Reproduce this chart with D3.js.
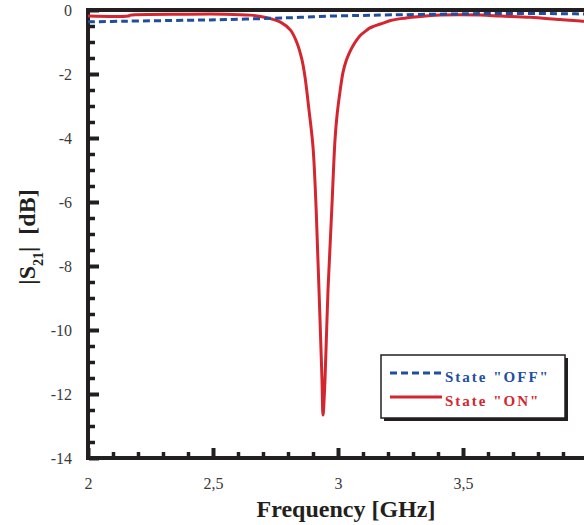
<!DOCTYPE html>
<html>
<head>
<meta charset="utf-8">
<script src="https://cdn.jsdelivr.net/npm/d3@7"></script>
<style>
  body { margin: 0; background: #fff; }
  svg { display: block; }
  .tick-label { font-family: "Liberation Serif", "Times New Roman", serif; font-size: 16px; fill: #3a3a3a; }
  .axis-title { font-family: "Liberation Serif", "Times New Roman", serif; font-weight: bold; fill: #231f20; white-space: pre; }
  .legend-text { font-family: "Liberation Serif", "Times New Roman", serif; font-weight: bold; font-size: 15px; letter-spacing: 2px; }
</style>
</head>
<body>
<div class="chart"></div>
<script>
// measured |S21| curves, frequency in GHz, value in dB
var freq_on = [2.00, 2.16, 2.17, 2.40, 2.55, 2.65, 2.69, 2.73, 2.77, 2.81, 2.836, 2.856, 2.868, 2.884, 2.90, 2.913, 2.924, 2.936, 2.940,
  2.948, 2.960, 2.975, 2.988, 2.996, 3.008, 3.02, 3.032, 3.045, 3.06, 3.075, 3.09, 3.11, 3.128, 3.18, 3.21, 3.25, 3.33, 3.41, 3.57, 3.65, 3.77, 3.89, 3.97, 4.00];
var s21_on = [-0.19, -0.19, -0.16, -0.13, -0.13, -0.16, -0.20, -0.27, -0.38, -0.63, -1.03, -1.56, -2.09, -3.13, -4.28, -6.3, -8.75, -11.56, -12.66,
  -11.56, -8.75, -6.25, -4.06, -3.3, -2.55, -1.95, -1.6, -1.35, -1.12, -0.93, -0.79, -0.66, -0.56, -0.41, -0.33, -0.27, -0.20, -0.16, -0.16, -0.19, -0.23, -0.30, -0.34, -0.36];

var freq_off = [2.00, 2.15, 2.40, 2.55, 2.73, 2.85, 2.97, 3.09, 3.19, 3.45, 3.60, 3.80, 3.95, 4.00];
var s21_off = [-0.37, -0.35, -0.32, -0.30, -0.26, -0.23, -0.19, -0.17, -0.155, -0.125, -0.11, -0.11, -0.12, -0.13];

var x_ticks = [2, 2.5, 3, 3.5, 4],
  x_tick_labels = ["2", "2,5", "3", "3,5", "4"];
var y_ticks = [0, -2, -4, -6, -8, -10, -12, -14];

var legend_labels = ['State "OFF"', 'State "ON"'];

var width = 584, height = 525,
  red = "#d4262e",
  blue = "#1f4ea1",
  ink = "#231f20";

var x = d3.scaleLinear().domain([2, 4]).range([88, 588]);
var y = d3.scaleLinear().domain([-14, 0]).range([458, 10]);

var svg = d3.select(".chart").append("svg")
    .attr("width", width)
    .attr("height", height);

// minor ticks first, major on top
var y_minor = d3.range(-14, 0.01, 0.5).filter(function(d){ return d % 2 != 0; });
var x_minor = d3.range(2, 4.001, 0.1).map(function(d){ return Math.round(d * 10) / 10; })
  .filter(function(d){ return x_ticks.indexOf(d) < 0; });

svg.append("g")
    .attr("transform", "translate(89,0)")
    .call(d3.axisLeft(y).tickValues(y_minor).tickSize(-6).tickSizeOuter(0).tickFormat(""))
    .call(styleAxis, 3.5);

svg.append("g")
    .attr("transform", "translate(89,0)")
    .call(d3.axisLeft(y).tickValues(y_ticks).tickSize(-10).tickSizeOuter(0).tickPadding(17)
      .tickFormat(function(d){ return String(d); }))
    .call(styleAxis, 4);

svg.append("g")
    .attr("transform", "translate(0,458)")
    .call(d3.axisBottom(x).tickValues(x_minor).tickSize(-6).tickSizeOuter(0).tickFormat(""))
    .call(styleAxis, 3.5);

svg.append("g")
    .attr("transform", "translate(0,458)")
    .call(d3.axisBottom(x).tickValues(x_ticks).tickSize(-10).tickSizeOuter(0).tickPadding(20)
      .tickFormat(function(d, i){ return x_tick_labels[i]; }))
    .call(styleAxis, 4);

function styleAxis(g, w){
  g.select(".domain").remove();
  g.selectAll(".tick line").attr("stroke", ink).attr("stroke-width", w);
  g.selectAll(".tick text").attr("class", "tick-label").attr("font-family", null).attr("font-size", null);
}

// frame
svg.append("path")
    .attr("d", "M" + x(4) + "," + y(0) + "H" + x(2) + "V" + y(-14) + "H" + x(4))
    .attr("fill", "none")
    .attr("stroke", ink)
    .attr("stroke-width", 4)
    .attr("stroke-linecap", "square");

var line = d3.line()
    .x(function(d){ return x(d[0]); })
    .y(function(d){ return y(d[1]); })
    .curve(d3.curveCatmullRom.alpha(0.5));

svg.append("path")
    .datum(d3.zip(freq_on, s21_on))
    .attr("d", line)
    .attr("fill", "none")
    .attr("stroke", red)
    .attr("stroke-width", 3);

svg.append("path")
    .datum(d3.zip(freq_off, s21_off))
    .attr("d", line)
    .attr("fill", "none")
    .attr("stroke", blue)
    .attr("stroke-width", 3)
    .attr("stroke-dasharray", "7,4");

// axis titles
svg.append("text")
    .attr("class", "axis-title")
    .attr("x", 346)
    .attr("y", 517)
    .attr("text-anchor", "middle")
    .attr("font-size", 24)
    .text("Frequency [GHz]");

var yt = svg.append("text")
    .attr("class", "axis-title")
    .attr("transform", "translate(35,237) rotate(-90)")
    .attr("text-anchor", "middle")
    .attr("font-size", 24);
yt.append("tspan").text("|S");
yt.append("tspan").attr("font-size", 14).attr("dy", 8).text("21");
yt.append("tspan").attr("dy", -8).text("|  [dB]");

// legend
var lg = svg.append("g").attr("transform", "translate(381,355)");
lg.append("rect")
    .attr("x", 3).attr("y", 3)
    .attr("width", 184).attr("height", 63)
    .attr("fill", ink);
lg.append("rect")
    .attr("width", 184).attr("height", 63)
    .attr("fill", "#fff")
    .attr("stroke", ink)
    .attr("stroke-width", 1.5);

var legend_items = lg.selectAll(".legend-item")
    .data(legend_labels)
  .enter().append("g")
    .attr("class", "legend-item")
    .attr("transform", function(d, i){ return "translate(0," + (18 + i * 24) + ")"; });

legend_items.append("line")
    .attr("x1", 9).attr("x2", 61)
    .attr("stroke", function(d, i){ return i == 0 ? blue : red; })
    .attr("stroke-width", 3)
    .attr("stroke-dasharray", function(d, i){ return i == 0 ? "7,4" : null; });

legend_items.append("text")
    .attr("class", "legend-text")
    .attr("x", 64)
    .attr("y", 9)
    .attr("fill", function(d, i){ return i == 0 ? blue : red; })
    .text(function(d){ return d; });
</script>
</body>
</html>
